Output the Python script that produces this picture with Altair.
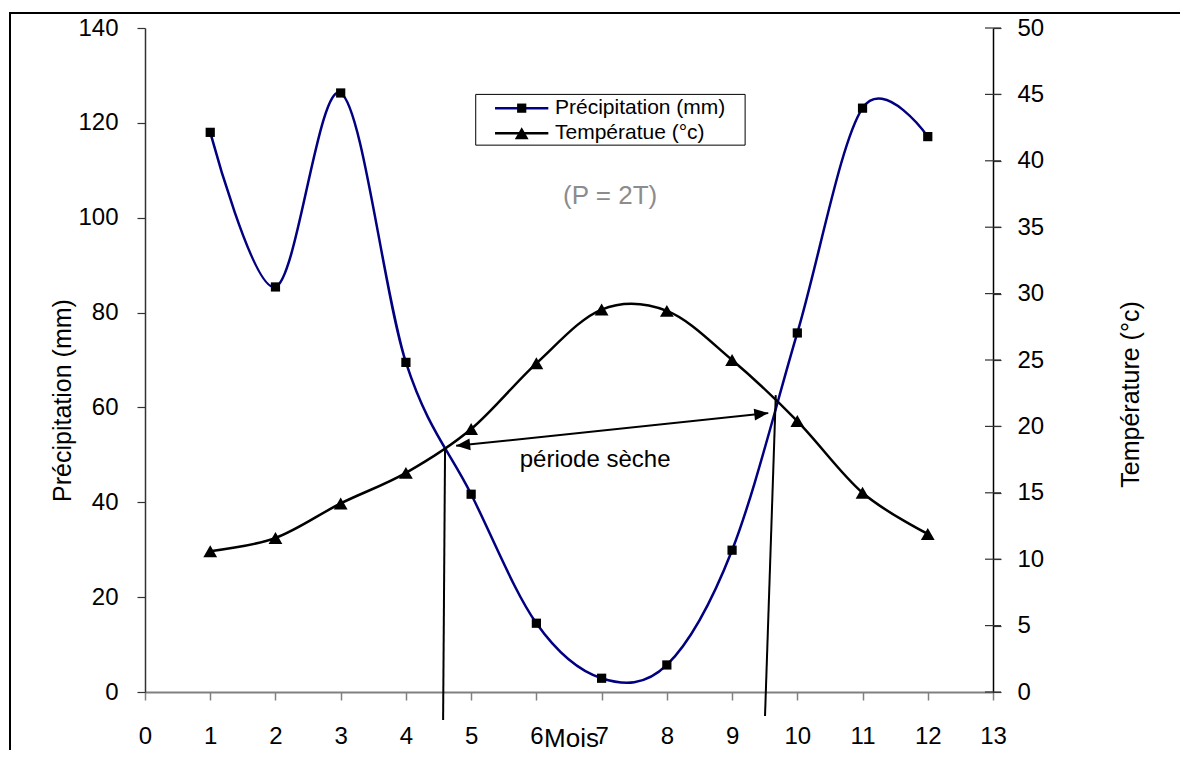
import altair as alt
import pandas as pd

FONT = "Liberation Sans"

# ---- data ----
months = list(range(1, 13))
precip = [118.0, 85.4, 126.3, 69.5, 41.7, 14.5, 2.9, 5.7, 29.9, 75.7, 123.1, 117.1]
temp = [10.6, 11.6, 14.2, 16.5, 19.8, 24.75, 28.8, 28.7, 25.0, 20.4, 15.0, 11.9]
x_ticks = list(range(0, 14))
p_ticks = list(range(0, 141, 20))
t_ticks = list(range(0, 51, 5))

# annotations (in month / precipitation units)
drop_x = [4.60, 9.67]
drop_x2 = [4.57, 9.505]
drop_y = [51.4, 62.6]
drop_y2 = [-5.9, -5.06]
arrow_start = [4.77, 51.9]
arrow_end = [9.555, 58.8]
note_dry = ["période sèche", 6.9, 48.9]
note_rule = ["(P = 2T)", 7.13, 104.6]

# legend (in month / precipitation units)
legend_box = [5.07, 9.2, 115.3, 126.0]
legend_labels = ["Précipitation (mm)", "Températue (°c)"]
legend_rows = [123.1, 117.8]
legend_line_x = [5.366, 6.183]
legend_marker_x = 5.775
legend_text_x = 6.285

df = pd.DataFrame({"Mois": months, "P": precip, "T": temp})

xs = alt.Scale(domain=[0, 13], nice=False, zero=False)
ps = alt.Scale(domain=[0, 140], nice=False)
ts = alt.Scale(domain=[0, 50], nice=False)

x_axis = alt.Axis(values=x_ticks, title="Mois", grid=False, tickSize=8, labelPadding=24,
                  domainColor="#808080", tickColor="#808080", domainWidth=2, tickWidth=1.5,
                  labelFont=FONT, labelFontSize=24, labelColor="black", labelFlush=False,
                  labelOverlap=False, titleFont=FONT, titleFontSize=26, titleFontWeight="normal",
                  titleColor="black", titleX=426, titleY=54, titleBaseline="alphabetic",
                  titleAlign="center", format="d")
p_axis = alt.Axis(values=p_ticks, title="Précipitation (mm)", grid=False, tickSize=8, labelPadding=19,
                  domainColor="#333333", tickColor="#333333", domainWidth=1.5, tickWidth=1.2,
                  labelFont=FONT, labelFontSize=24, labelColor="black", labelOverlap=False,
                  titleFont=FONT, titleFontSize=25, titleFontWeight="normal", titleColor="black",
                  titleAngle=270, titleX=-83, titleY=372, titleAlign="center", titleBaseline="middle",
                  format="d")
t_axis = alt.Axis(values=t_ticks, title="Température (°c)", orient="right", grid=False, tickSize=8,
                  labelPadding=16, domainColor="black", tickColor="#333333", domainWidth=1.5,
                  tickWidth=1.2, labelFont=FONT, labelFontSize=24, labelColor="black",
                  labelOverlap=False, titleFont=FONT, titleFontSize=25, titleFontWeight="normal",
                  titleColor="black", titleAngle=270, titleX=137, titleY=366, titleAlign="center",
                  titleBaseline="middle", format="d")


def X(field):
    return alt.X(field, type="quantitative", scale=xs, axis=x_axis)


def YP(field):
    return alt.Y(field, type="quantitative", scale=ps, axis=p_axis)


def YT(field):
    return alt.Y(field, type="quantitative", scale=ts, axis=t_axis)


# ---- precipitation layer ----
p_line = alt.Chart(df).mark_line(color="#000080", strokeWidth=2.5, interpolate="cardinal").encode(
    x=X("Mois"), y=YP("P"))
p_pts = alt.Chart(df).mark_point(shape="square", filled=True, color="black", size=85, opacity=1).encode(
    x=X("Mois"), y=YP("P"))

drops = pd.DataFrame({"x": drop_x, "x2": drop_x2, "y": drop_y, "y2": drop_y2})
drop_rules = alt.Chart(drops).mark_rule(color="black", strokeWidth=2).encode(
    x=X("x"), x2="x2", y=YP("y"), y2="y2")

arrow_df = pd.DataFrame({"x": [arrow_start[0]], "y": [arrow_start[1]],
                         "x2": [arrow_end[0]], "y2": [arrow_end[1]]})
arrow_shaft = alt.Chart(arrow_df).mark_rule(color="black", strokeWidth=2).encode(
    x=X("x"), x2="x2", y=YP("y"), y2="y2")
ARROW = "M0,0L-2,-0.85L-2,0.85Z"
head_r = alt.Chart(pd.DataFrame({"x": [arrow_end[0]], "y": [arrow_end[1]]})).mark_point(
    shape=ARROW, filled=True, color="black", size=196, opacity=1, angle=354.1).encode(
    x=X("x"), y=YP("y"))
head_l = alt.Chart(pd.DataFrame({"x": [arrow_start[0]], "y": [arrow_start[1]]})).mark_point(
    shape=ARROW, filled=True, color="black", size=196, opacity=1, angle=174.1).encode(
    x=X("x"), y=YP("y"))

dry_txt = alt.Chart(pd.DataFrame({"t": [note_dry[0]], "x": [note_dry[1]], "y": [note_dry[2]]})).mark_text(
    font=FONT, fontSize=24, color="black", align="center", baseline="middle").encode(
    x=X("x"), y=YP("y"), text="t:N")
rule_txt = alt.Chart(pd.DataFrame({"t": [note_rule[0]], "x": [note_rule[1]], "y": [note_rule[2]]})).mark_text(
    font=FONT, fontSize=26, color="#8c8c8c", align="center", baseline="middle").encode(
    x=X("x"), y=YP("y"), text="t:N")

# legend
box = alt.Chart(pd.DataFrame({"x": [legend_box[0]], "x2": [legend_box[1]],
                              "y": [legend_box[2]], "y2": [legend_box[3]]})).mark_rect(
    fill="white", stroke="black", strokeWidth=1).encode(x=X("x"), x2="x2", y=YP("y"), y2="y2")
leg_p_line = alt.Chart(pd.DataFrame({"x": [legend_line_x[0]], "x2": [legend_line_x[1]],
                                     "y": [legend_rows[0]]})).mark_rule(
    color="#000080", strokeWidth=2.5).encode(x=X("x"), x2="x2", y=YP("y"))
leg_t_line = alt.Chart(pd.DataFrame({"x": [legend_line_x[0]], "x2": [legend_line_x[1]],
                                     "y": [legend_rows[1]]})).mark_rule(
    color="black", strokeWidth=2.5).encode(x=X("x"), x2="x2", y=YP("y"))
leg_sq = alt.Chart(pd.DataFrame({"x": [legend_marker_x], "y": [legend_rows[0]]})).mark_point(
    shape="square", filled=True, color="black", size=85, opacity=1).encode(x=X("x"), y=YP("y"))
leg_tri = alt.Chart(pd.DataFrame({"x": [legend_marker_x], "y": [legend_rows[1]]})).mark_point(
    shape="triangle-up", filled=True, color="black", size=190, opacity=1).encode(x=X("x"), y=YP("y"))
leg_txt = alt.Chart(pd.DataFrame({"t": legend_labels, "x": [legend_text_x] * 2, "y": legend_rows})).mark_text(
    font=FONT, fontSize=21, color="black", align="left", baseline="middle").encode(
    x=X("x"), y=YP("y"), text="t:N")

# outer chart-area border (decoration)
frame = alt.Chart(pd.DataFrame({"a": [0]})).mark_rect(
    fillOpacity=0, stroke="black", strokeWidth=2).encode(
    x=alt.value(-135), x2=alt.value(1100), y=alt.value(-15), y2=alt.value(800))

precip_layer = alt.layer(p_line, frame, drop_rules, arrow_shaft, head_r, head_l, dry_txt, rule_txt,
                         box, leg_p_line, leg_t_line, leg_sq, leg_tri, leg_txt, p_pts)

# ---- temperature layer ----
t_line = alt.Chart(df).mark_line(color="black", strokeWidth=2.5, interpolate="cardinal").encode(
    x=X("Mois"), y=YT("T"))
t_pts = alt.Chart(df).mark_point(shape="triangle-up", filled=True, color="black", size=190, opacity=1).encode(
    x=X("Mois"), y=YT("T"))
# right-axis ticks cross the axis line in the reference
t_cross = alt.Chart(pd.DataFrame({"x": [13] * len(t_ticks), "t": t_ticks})).mark_tick(
    orient="horizontal", size=16, thickness=1.2, color="#333333", opacity=1).encode(
    x=X("x"), y=YT("t"))
temp_layer = alt.layer(t_line, t_pts, t_cross)

chart = alt.layer(precip_layer, temp_layer).resolve_scale(y="independent").properties(
    width=848, height=664,
    autosize=alt.AutoSizeParams(type="none"),
    padding={"left": 137, "top": 20, "right": 187, "bottom": 58},
    background="white",
).configure_view(stroke=None)

chart.save("out.html", embed_options={"renderer": "svg", "actions": False})
